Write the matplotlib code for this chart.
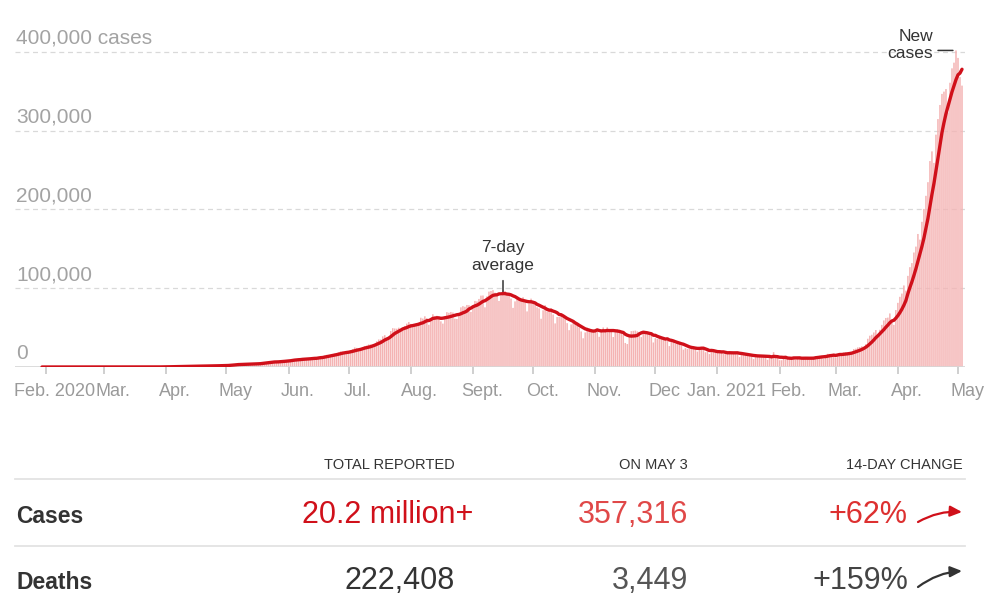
import matplotlib
matplotlib.use('Agg')
import matplotlib.pyplot as plt
import matplotlib.dates as mdates
import matplotlib.transforms as mtransforms
from matplotlib import font_manager as fm
from matplotlib.lines import Line2D
from matplotlib.patches import FancyArrowPatch
import numpy as np
import pandas as pd

# daily new cases in thousands, first value is 2020-01-30
jan20 = [0.001, 0.000]
feb20 = [0.000, 0.001, 0.001, 0.000, 0.000, 0.000, 0.000, 0.000, 0.000, 0.000,
         0.000, 0.000, 0.000, 0.000, 0.000, 0.000, 0.000, 0.000, 0.000, 0.000,
         0.000, 0.000, 0.000, 0.000, 0.000, 0.000, 0.000, 0.000, 0.000]
mar20 = [0.000, 0.002, 0.001, 0.022, 0.001, 0.001, 0.003, 0.005, 0.004, 0.013,
         0.006, 0.011, 0.010, 0.020, 0.011, 0.006, 0.023, 0.014, 0.038, 0.050,
         0.086, 0.066, 0.103, 0.037, 0.121, 0.070, 0.160, 0.100, 0.078, 0.227,
         0.146]
apr20 = [0.601, 0.545, 0.478, 0.513, 0.489, 0.573, 0.565, 0.813, 0.871, 0.854,
         0.758, 1.243, 1.034, 0.835, 1.076, 0.922, 1.370, 0.991, 1.893, 0.924,
         1.541, 1.290, 1.667, 1.408, 1.835, 1.607, 1.561, 1.873, 1.738, 1.801]
may20 = [2.396, 2.564, 2.952, 3.656, 2.971, 3.602, 3.344, 3.339, 3.175, 4.311,
         3.592, 3.562, 3.726, 3.991, 3.808, 4.794, 5.049, 4.630, 6.147, 5.553,
         6.198, 6.568, 6.629, 7.113, 6.414, 6.535, 6.387, 7.466, 7.964, 8.364,
         8.789]
jun20 = [7.761, 8.821, 9.633, 9.851, 9.887, 9.971, 9.983, 9.987, 9.985, 10.956,
         11.458, 10.956, 11.929, 11.502, 10.667, 12.881, 13.586, 12.881, 14.516, 15.413,
         14.821, 14.933, 15.968, 16.922, 17.296, 18.552, 19.906, 19.459, 18.522, 18.653]
jul20 = [19.148, 20.903, 22.771, 24.850, 24.248, 22.252, 22.752, 24.879, 26.506, 27.114,
         28.637, 28.701, 28.498, 29.429, 32.695, 34.956, 34.884, 38.902, 40.425, 37.148,
         37.724, 45.720, 49.310, 48.916, 48.661, 49.931, 47.704, 48.513, 52.123, 55.079,
         57.118]
aug20 = [54.735, 52.972, 52.050, 52.509, 56.282, 62.538, 61.537, 64.399, 62.064, 53.601,
         60.963, 66.999, 64.553, 65.002, 63.490, 57.981, 55.079, 64.531, 69.652, 68.898,
         69.878, 69.239, 61.408, 60.975, 67.151, 75.760, 77.266, 76.472, 78.761, 78.512,
         69.921]
sep20 = [78.357, 83.883, 83.341, 86.432, 90.632, 90.802, 75.809, 89.706, 95.735, 96.551,
         97.570, 94.372, 92.071, 83.809, 90.123, 97.894, 96.424, 93.337, 92.605, 86.961,
         75.083, 83.347, 86.508, 86.052, 85.362, 88.600, 82.170, 70.589, 80.472, 86.821]
oct20 = [81.484, 79.476, 75.829, 74.442, 61.267, 72.049, 78.524, 70.496, 73.272, 74.383,
         66.732, 55.342, 63.509, 63.509, 67.708, 63.371, 62.212, 55.722, 46.791, 54.044,
         55.839, 54.366, 53.370, 50.129, 45.148, 36.470, 43.893, 49.881, 48.648, 48.268,
         46.963]
nov20 = [46.964, 45.231, 38.310, 46.253, 50.210, 47.638, 50.356, 45.674, 45.903, 38.073,
         44.281, 47.905, 44.879, 44.684, 41.100, 30.548, 29.163, 38.617, 45.576, 45.882,
         46.232, 45.209, 44.059, 37.975, 44.376, 43.082, 43.082, 41.322, 41.810, 31.118]
dec20 = [36.604, 35.551, 36.595, 36.652, 36.011, 36.011, 32.981, 26.567, 32.080, 31.522,
         29.398, 30.006, 30.254, 27.071, 22.065, 24.010, 22.890, 22.889, 25.152, 26.624,
         24.337, 19.556, 23.950, 24.712, 23.068, 18.732, 20.021, 16.432, 20.550, 21.822,
         20.035]
jan21 = [19.078, 18.177, 18.177, 16.504, 16.375, 18.088, 20.346, 18.139, 18.222, 18.645,
         16.311, 12.584, 15.968, 16.946, 15.590, 15.158, 15.144, 13.788, 10.064, 13.823,
         15.223, 14.545, 14.256, 14.849, 13.203, 9.102, 12.689, 11.666, 18.855, 13.083,
         13.052]
feb21 = [8.635, 8.635, 11.039, 12.899, 12.408, 11.713, 11.831, 12.059, 9.110, 11.067,
         12.923, 9.309, 12.143, 11.831, 11.649, 9.121, 11.610, 12.881, 13.193, 13.993,
         14.264, 14.199, 10.584, 13.742, 16.738, 16.577, 16.488, 16.752]
mar21 = [12.286, 14.989, 17.407, 16.838, 18.327, 18.711, 18.599, 15.388, 17.921, 22.854,
         23.285, 24.882, 25.320, 26.291, 24.492, 28.903, 35.871, 39.726, 40.953, 43.846,
         46.951, 40.715, 47.262, 53.476, 59.118, 62.258, 62.714, 68.020, 56.211, 53.480,
         72.330]
apr21 = [81.466, 89.129, 93.249, 103.558, 96.982, 115.736, 126.789, 131.968, 145.384, 152.879,
         168.912, 161.736, 184.372, 200.739, 217.353, 234.692, 261.500, 273.810, 259.170, 295.041,
         314.835, 332.730, 346.786, 349.691, 352.991, 323.144, 360.960, 379.257, 386.452, 401.993]
may21 = [392.488, 368.147, 357.316]

month_ticks = ['2020-02-01', '2020-03-01', '2020-04-01', '2020-05-01', '2020-06-01',
               '2020-07-01', '2020-08-01', '2020-09-01', '2020-10-01', '2020-11-01',
               '2020-12-01', '2021-01-01', '2021-02-01', '2021-03-01', '2021-04-01',
               '2021-05-01']
month_labels = ['Feb. 2020', 'Mar.', 'Apr.', 'May', 'Jun.', 'Jul.', 'Aug.', 'Sept.',
                'Oct.', 'Nov.', 'Dec', 'Jan. 2021', 'Feb.', 'Mar.', 'Apr.', 'May']
y_ticks = [0, 100000, 200000, 300000, 400000]
y_labels = ['0', '100,000', '200,000', '300,000', '400,000 cases']

table_cols = ['TOTAL REPORTED', 'ON MAY 3', '14-DAY CHANGE']
table_rows = ['Cases', 'Deaths']
totals = ['20.2 million+', '222,408']
on_day = ['357,316', '3,449']
changes = ['+62%', '+159%']

daily = np.concatenate([jan20, feb20, mar20, apr20, may20, jun20, jul20, aug20, sep20,
                        oct20, nov20, dec20, jan21, feb21, mar21, apr21, may21]) * 1000
dates = pd.date_range('2020-01-30', periods=len(daily), freq='D')
cases = pd.Series(daily, index=dates)
avg7 = cases.rolling(7, min_periods=1).mean()

names = {f.name for f in fm.fontManager.ttflist}
FONT = 'Liberation Sans'
NARROW = 'Liberation Sans Narrow' if 'Liberation Sans Narrow' in names else FONT
plt.rcParams['font.family'] = [FONT, 'DejaVu Sans']

W, H = 1000, 615
fig = plt.figure(figsize=(W / 100, H / 100), dpi=100)
px_day = 2.0044
ax = fig.add_axes([15 / W, (H - 367) / H, 950 / W, 330.75 / H])
x0 = mdates.date2num(pd.Timestamp('2020-02-01')) - 31 / px_day
ax.set_xlim(x0, x0 + 950 / px_day)
ax.set_ylim(0, 420000)

bars = ax.bar(cases.index, cases.values, width=0.75, color='#f4b3b3', linewidth=0, zorder=2)
for b in bars:
    b.set_snap(False)
ax.plot(avg7.index, avg7.values, color='#d0101a', lw=2.4,
        solid_capstyle='round', solid_joinstyle='round', zorder=4)

for v in y_ticks[1:]:
    ax.axhline(v, color='#d9d9d9', lw=0.9, ls=(0, (4, 3)), zorder=1)
ax.axhline(0, color='#d6d6d6', lw=1.2, zorder=3)

for s in ax.spines.values():
    s.set_visible(False)
ax.set_yticks([])
ax.set_xticks(pd.to_datetime(month_ticks))
ax.set_xticklabels(month_labels)
ax.tick_params(axis='x', length=5, width=1.1, color='#c2c2c2', labelsize=13,
               labelcolor='#9a9a9a', pad=6.5)
shift = mtransforms.ScaledTranslation(9 / 100, 0, fig.dpi_scale_trans)
for lbl in ax.get_xticklabels():
    lbl.set_transform(lbl.get_transform() + shift)

ytrans = mtransforms.offset_copy(ax.get_yaxis_transform(), fig=fig, x=0, y=8, units='dots')
for v, l in zip(y_ticks, y_labels):
    ax.text(0.001, v, l, transform=ytrans, ha='left', va='baseline',
            fontsize=15, color='#a3a3a3')

# 7-day average label at the 2020 peak
avg20 = avg7[:'2020-12-31']
pk_d, pk_v = avg20.idxmax(), avg20.max()
ax.annotate('7-day\naverage', xy=(pk_d, pk_v), xytext=(0, 21), textcoords='offset pixels',
            ha='center', va='bottom', fontsize=12.5, color='#333333', linespacing=1.2)
ax.annotate('', xy=(pk_d, pk_v), xytext=(0, 13), textcoords='offset pixels',
            arrowprops=dict(arrowstyle='-', lw=1.1, color='#333333', shrinkA=0, shrinkB=0),
            zorder=3)

# new cases label at the tallest bar
nc_d, nc_v = cases.idxmax(), cases.max()
ax.annotate('New\ncases', xy=(nc_d, nc_v), xytext=(-23, -11), textcoords='offset pixels',
            ha='right', va='bottom', fontsize=12.5, color='#333333', linespacing=1.2)
ax.annotate('', xy=(nc_d, nc_v), xytext=(-18, 0), textcoords='offset pixels',
            arrowprops=dict(arrowstyle='-', lw=1.1, color='#333333', shrinkA=0, shrinkB=2.2))


def fx(x):
    return x / W


def fy(y):
    return 1 - y / H


# summary table under the chart
hdr_size = 12.2 if NARROW != FONT else 10.5
for txt, xr in zip(table_cols, [455, 688, 963]):
    fig.text(fx(xr), fy(469), txt, ha='right', va='baseline', fontsize=hdr_size,
             color='#333333', family=[NARROW, 'DejaVu Sans'])
for yl in [479, 546]:
    fig.add_artist(Line2D([fx(15), fx(965)], [fy(yl), fy(yl)], color='#e3e3e3', lw=1.3,
                          transform=fig.transFigure))

row_y = [523, 589]
tot_col = ['#d0101a', '#333333']
day_col = ['#e04848', '#555555']
chg_col = ['#dd3030', '#444444']
arr_col = ['#d0101a', '#333333']
tot_x = [473, 455]
for i, name in enumerate(table_rows):
    y = fy(row_y[i])
    fig.text(fx(16), y, name, ha='left', va='baseline', fontsize=16.5,
             fontweight='bold', color='#333333')
    fig.text(fx(tot_x[i]), y, totals[i], ha='right', va='baseline', fontsize=22,
             color=tot_col[i])
    fig.text(fx(688), y, on_day[i], ha='right', va='baseline', fontsize=22,
             color=day_col[i])
    fig.text(fx(908), y, changes[i], ha='right', va='baseline', fontsize=22,
             color=chg_col[i])

arrow_pts = [((918, 522), (962, 512)), ((918, 587), (962, 571))]
for (a, b), c in zip(arrow_pts, arr_col):
    fig.add_artist(FancyArrowPatch((fx(a[0]), fy(a[1])), (fx(b[0]), fy(b[1])),
                                   transform=fig.transFigure, color=c, lw=1.6,
                                   arrowstyle='-|>,head_length=0.7,head_width=0.32',
                                   mutation_scale=10, connectionstyle='arc3,rad=-0.15',
                                   shrinkA=0, shrinkB=0))

fig.savefig('out.png', dpi=100, facecolor='white')
plt.close(fig)
